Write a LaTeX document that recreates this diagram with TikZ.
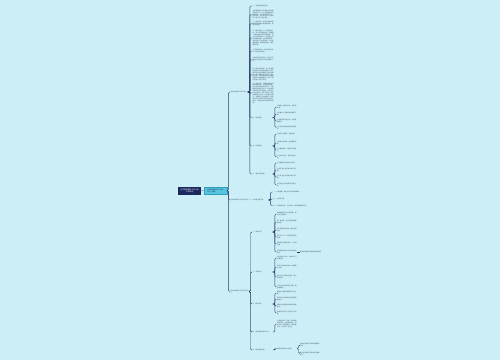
\documentclass[tikz,border=0pt]{standalone}
\usepackage{fontspec}
\newfontfamily\cjk{Noto Sans CJK SC}
\XeTeXlinebreaklocale "zh"
\XeTeXlinebreakskip=0pt plus 0.5pt
\definecolor{MapBg}{HTML}{CBEEF7}
\definecolor{MapNavy}{HTML}{1B275E}
\definecolor{MapTeal}{HTML}{57C5DE}
\definecolor{MapTealDark}{HTML}{2F9FBF}
\definecolor{MapLine}{HTML}{2C3B66}
\definecolor{MapText}{HTML}{465468}
\usetikzlibrary{positioning}

\begin{document}
\begin{tikzpicture}[x=1pt, y=-1pt,
    rootbox/.style={fill=MapNavy, text=white, align=center, inner sep=0.4pt,
      minimum width=22.7pt, minimum height=7.4pt, font=\cjk\fontsize{1.8}{2.3}\selectfont},
    mainbox/.style={fill=MapTeal, draw=MapTealDark, line width=0.3pt, text=MapNavy,
      align=left, inner sep=0.4pt, minimum width=23pt, minimum height=6.4pt,
      font=\cjk\fontsize{1.6}{2.1}\selectfont},
    topic/.style={anchor=west, inner sep=0.3pt, align=left, text=MapText,
      font=\cjk\fontsize{1.5}{1.9}\selectfont},
    note/.style={topic, text width=21pt},
    leaf/.style={topic, text width=19.5pt},
    link/.style={draw=MapLine, line width=0.45pt, rounded corners=1.2pt}
  ]
  \fill[MapBg] (0,0) rectangle (500,360);
  \useasboundingbox (0,0) rectangle (500,360);

  % centre
  \node[rootbox] (root) at (189.7,191) {初中数学教学工作计划\\范文精选};
  \node[mainbox] (main) at (215.3,190.5) {初中数学教学工作计划\\范文（通用）};
  \draw[link] (root) -- (main);

  % first level
  \node[topic, text width=16.5pt] (pa) at (230,92) {初中数学教学工作计划1};
  \node[topic, text width=37pt] (pb) at (230,200) {初中数学教学工作计划范文（二）本学期主要工作};
  \node[topic, text width=18pt] (pc) at (230,291.5) {初中数学教学工作计划范文三};
  \foreach \n in {pa,pb,pc}
    \draw[link] (main.east) -- ++(1.5,0) |- (\n.west);

  % branch one
  \node[note] (a1) at (252,6) {一、学生基本情况分析};
  \node[note] (a2) at (252,14.5) {本学期我担任九年级两个班的数学教学工作。从上学期期末考试成绩来看，学生基础参差不齐，优生较少，部分学生学习习惯较差，缺乏学习的主动性。};
  \node[note] (a3) at (252,23.5) {二、教学目标：使学生掌握本册教材的基础知识和基本技能，提高分析能力。};
  \node[note] (a4) at (252,38) {三、教学措施：1.认真钻研教材，深入研究课程标准，明确每一课时的教学目标和重难点，精心设计教学过程。2.注重学生学习兴趣的培养，创设问题情境，调动学生学习的积极性。3.加强课堂管理，提高课堂效率，做到精讲多练。};
  \node[note] (a5) at (252,51) {4.认真批改作业，及时发现学生学习中存在的问题。};
  \node[note] (a6) at (252,59.5) {5.做好培优补差工作，针对不同层次的学生制定不同的辅导计划。};
  \node[note] (a7) at (252,74.5) {四、教学进度安排：第一周至第四周完成二次函数的教学；第五周至第七周完成相似三角形的教学；第八周期中复习考试；第九周至第十二周完成锐角三角函数及投影与视图的教学；第十三周以后进入总复习阶段。};
  \node[note] (a8) at (252,93) {五、其他工作：积极参加学校组织的教研活动，认真听课评课，虚心向有经验的老师学习，不断提高自身的业务水平。同时加强与家长的沟通与联系，共同关注学生的成长。在复习阶段，制定详细的复习计划，分专题进行复习，注重知识之间的联系，提高学生综合运用知识解决问题的能力，力争在中考中取得优异成绩。};
  \node[leaf] (a9) at (252,117.5) {六、培优措施};
  \node[leaf] (a10) at (252,146) {七、补差措施};
  \node[leaf] (a11) at (252,174) {八、课外活动安排};
  \foreach \n in {a1,a2,a3,a4,a5,a6,a7,a8,a9,a10,a11}
    \draw[link] (pa.east) -- ++(2.4,0) |- (\n.west);

  \node[leaf] (a91) at (276.5,107) {1.课堂上多提问优生，拓宽知识面。};
  \node[leaf] (a92) at (276.5,114) {2.布置有一定难度的拓展练习题。};
  \node[leaf] (a93) at (276.5,121) {3.组织数学兴趣小组，开展竞赛辅导。};
  \node[leaf] (a94) at (276.5,127.5) {4.引导优生帮助学困生共同进步。};
  \node[leaf] (a101) at (276.5,134) {1.课后个别辅导，查漏补缺。};
  \node[leaf] (a102) at (276.5,143) {2.降低作业难度，重视基础训练。};
  \node[leaf] (a103) at (276.5,150) {3.多鼓励表扬，增强学习的信心。};
  \node[leaf] (a104) at (276.5,157) {4.与家长配合，督促完成作业。};
  \node[leaf] (a111) at (276.5,163) {1.开展数学手抄报评比活动。};
  \node[leaf] (a112) at (276.5,170) {2.组织学生进行数学知识竞赛。};
  \node[leaf] (a113) at (276.5,177) {3.引导学生阅读数学课外读物。};
  \node[leaf] (a114) at (276.5,185) {4.开展生活中的数学调查活动。};
  \foreach \n in {a91,a92,a93,a94}
    \draw[link] (a9.east) -- ++(2.4,0) |- (\n.west);
  \foreach \n in {a101,a102,a103,a104}
    \draw[link] (a10.east) -- ++(2.4,0) |- (\n.west);
  \foreach \n in {a111,a112,a113,a114}
    \draw[link] (a11.east) -- ++(2.4,0) |- (\n.west);

  % branch two
  \node[topic] (b1) at (273,192) {一、认真备课，精心设计每节课的教案};
  \node[topic] (b2) at (273,199) {二、上好每节课};
  \node[topic] (b3) at (273,205.5) {三、认真批改作业，及时讲评，做好课后辅导工作};
  \foreach \n in {b1,b2,b3}
    \draw[link] (pb.east) -- ++(2.4,0) |- (\n.west);

  % branch three
  \node[leaf] (c1) at (252,232) {一、教材分析};
  \node[leaf] (c2) at (252,272) {二、学情分析};
  \node[leaf] (c3) at (252,304) {三、教学目标};
  \node[leaf] (c4) at (252,332) {四、具体措施与教学方法};
  \node[leaf] (c5) at (252,350) {五、教学进度安排};
  \foreach \n in {c1,c2,c3,c4,c5}
    \draw[link] (pc.east) -- ++(1.5,0) |- (\n.west);

  \node[leaf] (c11) at (276.5,214) {本册教材共分为六章内容，知识点多而集中。};
  \node[leaf] (c12) at (276.5,222) {第一章实数，复习巩固有理数的运算。};
  \node[leaf] (c13) at (276.5,230) {第二章整式的加减，重在运算法则。};
  \node[leaf] (c14) at (276.5,237) {第三章一元一次方程及其实际应用。};
  \node[leaf] (c15) at (276.5,244) {第四章几何图形初步，认识线与角。};
  \node[leaf] (c16) at (276.5,252) {第五章相交线与平行线的性质判定。};
  \node[topic] (c161) at (299.5,252) {图形的推理与证明是本册的难点};
  \draw[link] (c16.east) -- (c161.west);
  \foreach \n in {c11,c12,c13,c14,c15,c16}
    \draw[link] (c1.east) -- ++(2.4,0) |- (\n.west);

  \node[leaf] (c21) at (276.5,258) {学生刚进入初中，对数学学习充满好奇。};
  \node[leaf] (c22) at (276.5,267) {但学习方法尚未形成，需要耐心引导。};
  \node[leaf] (c23) at (276.5,277) {部分学生计算能力较弱，粗心现象较多。};
  \node[leaf] (c24) at (276.5,287) {个别学生对数学缺乏兴趣，需加强辅导。};
  \foreach \n in {c21,c22,c23,c24}
    \draw[link] (c2.east) -- ++(2.4,0) |- (\n.west);

  \node[leaf] (c31) at (276.5,293) {掌握本学期的基础知识与技能。};
  \node[leaf] (c32) at (276.5,299) {培养学生的运算能力和逻辑思维能力。};
  \node[leaf] (c33) at (276.5,306) {提高学生运用数学解决问题的能力。};
  \node[leaf] (c34) at (276.5,313) {养成良好的学习习惯与学习态度。};
  \foreach \n in {c31,c32,c33,c34}
    \draw[link] (c3.east) -- ++(2.4,0) |- (\n.west);

  \node[leaf] (c41) at (276.5,324) {认真备好每一节课，创设情境激发兴趣，注重讲练结合，及时反馈，因材施教，分层布置作业，关注每一位学生。};
  \draw[link] (c4.east) -- ++(2.4,0) |- (c41.west);

  \node[leaf] (c51) at (276.5,348.5) {按照学校教学计划进行};
  \draw[link] (c5.east) -- ++(2.4,0) |- (c51.west);
  \node[leaf] (c511) at (299.5,345) {期中前完成前三章的新课教学任务。};
  \node[leaf] (c512) at (299.5,353.5) {期中后完成后三章并进行期末复习。};
  \foreach \n in {c511,c512}
    \draw[link] (c51.east) -- ++(1.5,0) |- (\n.west);
\end{tikzpicture}
\end{document}
